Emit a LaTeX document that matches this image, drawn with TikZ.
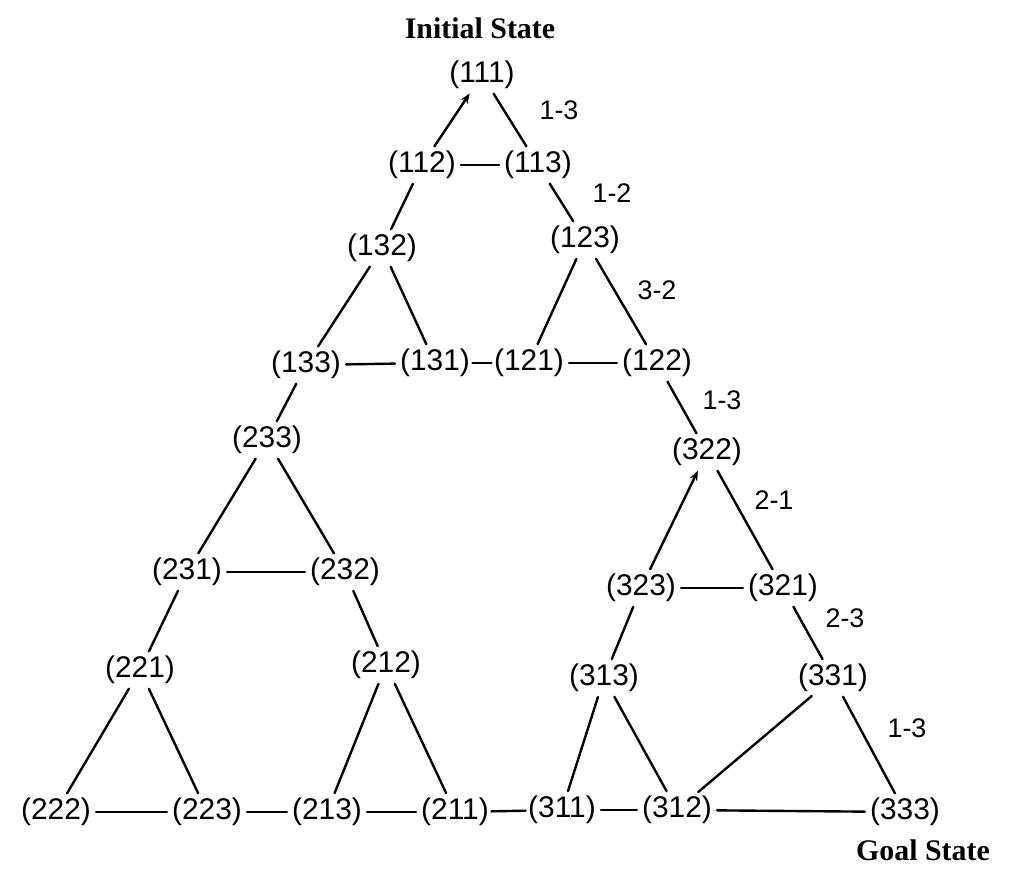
\documentclass[tikz,border=0pt]{standalone}
\usepackage{fontspec}
\setmainfont{Liberation Serif}
\newfontfamily\handfont{Liberation Sans}
\usetikzlibrary{arrows.meta}
\begin{document}
\begin{tikzpicture}[x=1bp,y=-1bp,
  st/.style={font=\handfont\fontsize{30}{32}\selectfont, inner sep=2pt},
  lab/.style={font=\handfont\fontsize{27}{29}\selectfont, inner sep=0pt},
  ttl/.style={font=\bfseries\fontsize{30}{32}\selectfont, inner sep=0pt},
  ln/.style={line width=2.4pt, line cap=round, shorten <=3pt, shorten >=3pt},
  tight/.style={shorten <=0.5pt, shorten >=0.5pt},
  arr/.style={ln, -{Stealth[length=10pt,width=8pt]}}]
\useasboundingbox (0,0) rectangle (1009,875);
% titles
\node[ttl] (init) at (480,28) {Initial State};
\node[ttl] (goal) at (923,850) {Goal State};
% states
\node[st] (n111) at (482,75) {(111)};
\node[st] (n112) at (422,165) {(112)};
\node[st] (n113) at (538,165) {(113)};
\node[st] (n132) at (382,248) {(132)};
\node[st] (n123) at (585,240) {(123)};
\node[st] (n133) at (306,365) {(133)};
\node[st] (n131) at (435,363) {(131)};
\node[st] (n121) at (529,363) {(121)};
\node[st] (n122) at (657,363) {(122)};
\node[st] (n233) at (267,440) {(233)};
\node[st] (n322) at (707,452) {(322)};
\node[st] (n231) at (187,572) {(231)};
\node[st] (n232) at (345,572) {(232)};
\node[st] (n323) at (641,588) {(323)};
\node[st] (n321) at (783,588) {(321)};
\node[st] (n221) at (140,670) {(221)};
\node[st] (n212) at (386,665) {(212)};
\node[st] (n313) at (604,678) {(313)};
\node[st] (n331) at (833,678) {(331)};
\node[st] (n222) at (56,812) {(222)};
\node[st] (n223) at (207,812) {(223)};
\node[st] (n213) at (327,812) {(213)};
\node[st] (n211) at (455,812) {(211)};
\node[st] (n311) at (562,810) {(311)};
\node[st] (n312) at (677,810) {(312)};
\node[st] (n333) at (905,812) {(333)};
% move labels
\node[lab] (l1) at (559,110) {1-3};
\node[lab] (l2) at (612,193) {1-2};
\node[lab] (l3) at (657,290) {3-2};
\node[lab] (l4) at (722,400) {1-3};
\node[lab] (l5) at (774,500) {2-1};
\node[lab] (l6) at (845,618) {2-3};
\node[lab] (l7) at (907,728) {1-3};
% edges
\draw[arr] (n112) -- (n111);
\draw[ln] (n111) -- (n113);
\draw[ln] (n112) -- (n113);
\draw[ln] (n112) -- (n132);
\draw[ln] (n113) -- (n123);
\draw[ln] (n132) -- (n133);
\draw[ln] (n132) -- (n131);
\draw[ln] (n123) -- (n121);
\draw[ln] (n123) -- (n122);
\draw[ln] (n133) -- (n131);
\draw[ln, tight] (n131) -- (n121);
\draw[ln] (n121) -- (n122);
\draw[ln] (n133) -- (n233);
\draw[ln] (n122) -- (n322);
\draw[ln] (n233) -- (n231);
\draw[ln] (n233) -- (n232);
\draw[ln] (n231) -- (n232);
\draw[arr] (n323) -- (n322);
\draw[ln] (n322) -- (n321);
\draw[ln] (n323) -- (n321);
\draw[ln] (n231) -- (n221);
\draw[ln] (n232) -- (n212);
\draw[ln] (n323) -- (n313);
\draw[ln] (n321) -- (n331);
\draw[ln] (n221) -- (n222);
\draw[ln] (n221) -- (n223);
\draw[ln] (n212) -- (n213);
\draw[ln] (n212) -- (n211);
\draw[ln] (n313) -- (n311);
\draw[ln] (n313) -- (n312);
\draw[ln] (n331) -- (n312);
\draw[ln] (n331) -- (n333);
\draw[ln] (n222) -- (n223);
\draw[ln] (n223) -- (n213);
\draw[ln] (n213) -- (n211);
\draw[ln, tight] (n211) -- (n311);
\draw[ln] (n311) -- (n312);
\draw[ln] (n312) -- (n333);
\end{tikzpicture}
\end{document}
